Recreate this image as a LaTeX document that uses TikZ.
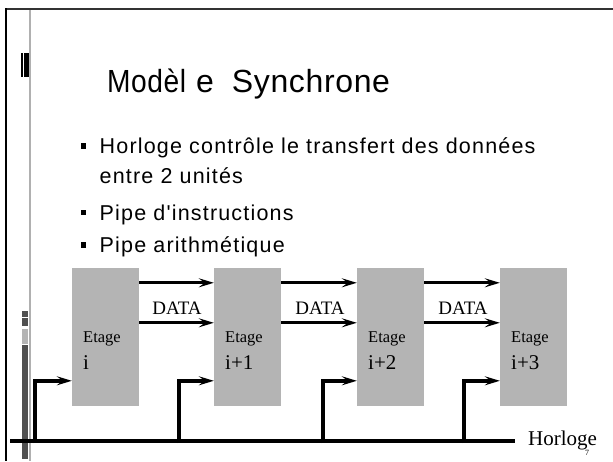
\documentclass[tikz,border=0pt]{standalone}
\usepackage{fontspec}
\usepackage{graphicx}
\setmainfont{Liberation Serif}
\newfontfamily\titlef[LetterSpace=2]{Liberation Sans}
\newfontfamily\bulf[LetterSpace=5.5]{Liberation Sans}
\usetikzlibrary{arrows.meta,calc}
\definecolor{boxgray}{HTML}{B4B4B4}
\definecolor{linegray}{HTML}{B0B0B0}
\definecolor{darkbar}{HTML}{505050}
\tikzset{
  stage/.style={fill=boxgray, draw=none, minimum width=67pt, minimum height=138pt, inner sep=0pt},
  lbl/.style={inner sep=0pt, anchor=base west},
  etage/.style={lbl, font=\fontsize{16.5}{17}\selectfont},
  idx/.style={lbl, font=\fontsize{21}{22}\selectfont},
  datal/.style={inner sep=0pt, anchor=base, font=\fontsize{19}{20}\selectfont},
  arr/.style={line width=3pt, -{Stealth[length=15pt,width=9pt,inset=6pt]}},
  clk/.style={line width=3.5pt, -{Stealth[length=15pt,width=9pt,inset=6pt]}},
  bus/.style={line width=4pt},
  bullet/.style={fill=black, minimum width=5pt, minimum height=5.5pt, inner sep=0pt},
  btext/.style={lbl, font=\bulf\fontsize{21.5}{22}\selectfont}
}
\begin{document}
\begin{tikzpicture}[x=1pt,y=-1pt]
\useasboundingbox (0,0) rectangle (613,461);
\fill[white] (0,0) rectangle (613,461);
% frame
\draw[black!80, line width=2pt] (5,9) -- (613,9);
\draw[black, line width=2pt] (6,8) -- (6,461);
\draw[linegray, line width=2pt] (30,10) -- (30,461);
\fill[black] (21,53) rectangle (23,77);
\fill[black] (24,53) rectangle (29,77);
\fill[darkbar] (22,311) rectangle (28,317);
\fill[darkbar] (22,318) rectangle (28,326);
\fill[boxgray] (22,329) rectangle (28,344);
\fill[darkbar] (22,345) rectangle (28,459);
% title
\node[lbl, font=\titlef\fontsize{32}{36}\selectfont] (title) at (107,92) {\scalebox{0.88}[1]{Modèl}\hspace{10pt}e\hspace{18pt}Synchrone};
% bullets
\node[bullet] (b1) at (83,146) {};
\node[btext] (t1) at (99.5,153) {Horloge contrôle le transfert des données};
\node[btext] (t1b) at (99.5,183) {entre 2 unités};
\node[bullet] (b2) at (83,212.5) {};
\node[btext] (t2) at (99.5,220) {Pipe d'instructions};
\node[bullet] (b3) at (83,245) {};
\node[btext] (t3) at (99.5,252) {Pipe arithmétique};
% stages
\node[stage] (s1) at (105.5,337) {};
\node[stage] (s2) at (247.5,337) {};
\node[stage] (s3) at (390.5,337) {};
\node[stage] (s4) at (533.5,337) {};
\node[etage] (e1) at (83,342) {Etage};
\node[idx] (i1) at (83,369) {i};
\node[etage] (e2) at (225,342) {Etage};
\node[idx] (i2) at (225,369) {i+1};
\node[etage] (e3) at (368,342) {Etage};
\node[idx] (i3) at (368,369) {i+2};
\node[etage] (e4) at (511,342) {Etage};
\node[idx] (i4) at (511,369) {i+3};
% data arrows
\foreach \a/\b in {s1/s2,s2/s3,s3/s4}{
  \draw[arr] ($(\a.north east)+(0,15)$) -- ($(\b.north west)+(0,15)$);
  \draw[arr] ($(\a.north east)+(0,55)$) -- ($(\b.north west)+(0,55)$);
}
\node[datal] (d1) at (177,314) {DATA};
\node[datal] (d2) at (320,314) {DATA};
\node[datal] (d3) at (463,314) {DATA};
% clock
\coordinate (busL) at (10,441);
\coordinate (busR) at (515,441);
\draw[bus] (busL) -- (busR);
\coordinate (c1) at (35,443);
\coordinate (c2) at (179,443);
\coordinate (c3) at (323,443);
\coordinate (c4) at (464,443);
\foreach \c/\s in {c1/s1,c2/s2,c3/s3,c4/s4}{
  \draw[clk] (\c) |- ($(\s.north west)+(0,113)$);
}
\node[lbl, font=\fontsize{21}{22}\selectfont] (hor) at (528,445) {Horloge};
\node[lbl, font=\fontsize{8}{8}\selectfont] (num) at (585,455) {7};
\end{tikzpicture}
\end{document}
